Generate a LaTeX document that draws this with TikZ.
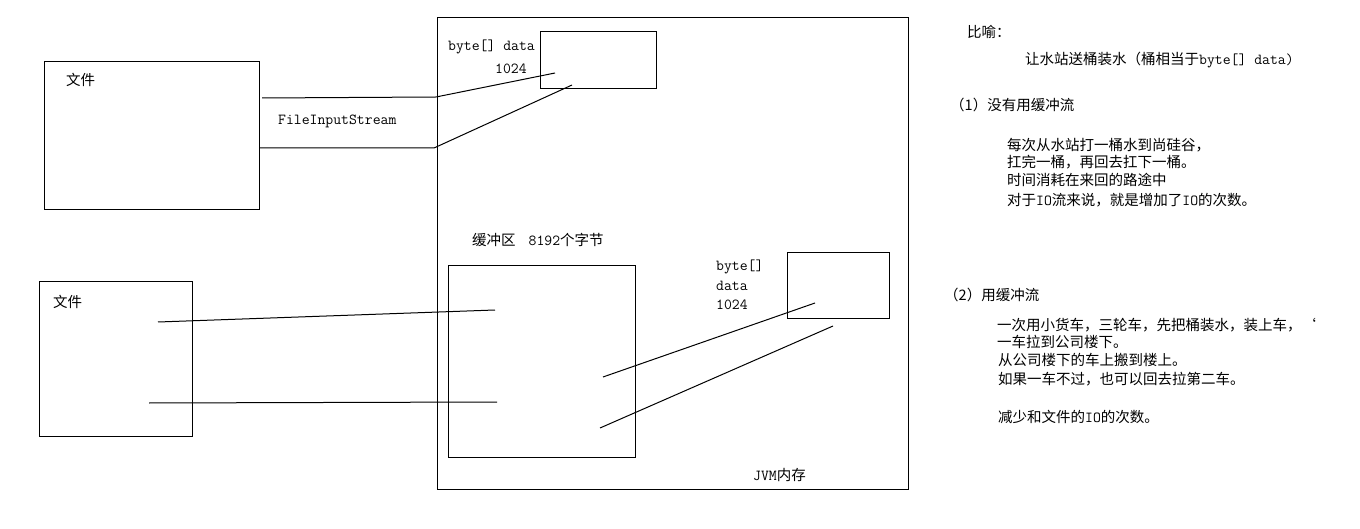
\documentclass[tikz,border=0pt]{standalone}
\usepackage{fontspec}
\setmainfont{Noto Sans CJK SC}
\newcommand{\asc}[1]{{\fontsize{15.3}{17}\selectfont\ttfamily #1}}
\begin{document}
\begin{tikzpicture}[x=1pt,y=-1pt,
  box/.style={draw, line width=1pt, inner sep=0pt, outer sep=0pt, anchor=north west},
  txt/.style={anchor=west, inner sep=0pt, font=\fontsize{14.5}{17}\selectfont},
  ln/.style={line width=1pt}]
\useasboundingbox[fill=white] (0,0) rectangle (1360,529);
% boxes
\node[box, minimum width=215pt, minimum height=148pt] (file1) at (44,62) {};
\node[box, minimum width=471pt, minimum height=471pt] (jvm) at (437,18) {};
\node[box, minimum width=116pt, minimum height=57pt] (arr1) at (540,32) {};
\node[box, minimum width=187pt, minimum height=191pt] (buf) at (448,266) {};
\node[box, minimum width=102pt, minimum height=66pt] (arr2) at (787,253) {};
\node[box, minimum width=153pt, minimum height=154pt] (file2) at (39,282) {};
% texts in diagram
\node[txt] (tfile1) at (66,80) {文件};
\node[txt] (tfis) at (278,121) {\asc{FileInputStream}};
\node[txt] (tbd) at (448,47) {\asc{byte[] data}};
\node[txt] (t1024a) at (495,69) {\asc{1024}};
\node[txt] (tbuf) at (472,240) {缓冲区\hspace{13pt}\asc{8192}个字节};
\node[txt] (tb2) at (716,267) {\asc{byte[]}};
\node[txt] (td2) at (716,286) {\asc{data}};
\node[txt] (t1024b) at (716,305) {\asc{1024}};
\node[txt] (tjvm) at (753,475) {\asc{JVM}内存};
\node[txt] (tfile2) at (53,302) {文件};
% connector points
\coordinate (a1) at (262,98);
\coordinate (a2) at (436,97);
\coordinate (a3) at (555,73);
\coordinate (b1) at (259,148);
\coordinate (b2) at (434,148);
\coordinate (b3) at (572,85);
\coordinate (c1) at (158,322);
\coordinate (c2) at (495,310);
\coordinate (d1) at (149,403);
\coordinate (d2) at (497,402);
\coordinate (e1) at (603,377);
\coordinate (e2) at (815,303);
\coordinate (f1) at (600,428);
\coordinate (f2) at (833,326);
\draw[ln] (a1) -- (a2) -- (a3);
\draw[ln] (b1) -- (b2) -- (b3);
\draw[ln] (c1) -- (c2);
\draw[ln] (d1) -- (d2);
\draw[ln] (e1) -- (e2);
\draw[ln] (f1) -- (f2);
% right-hand notes
\node[txt] (r0) at (967,32) {比喻：};
\node[txt] (r1) at (1025,60) {让水站送桶装水（桶相当于\asc{byte[] data)}};
\node[txt] (r2) at (950,105) {（1）没有用缓冲流};
\node[txt] (r3) at (1007,145) {每次从水站打一桶水到尚硅谷，};
\node[txt] (r4) at (1007,162) {扛完一桶，再回去扛下一桶。};
\node[txt] (r5) at (1007,180) {时间消耗在来回的路途中};
\node[txt] (r6) at (1007,200) {对于\asc{IO}流来说，就是增加了\asc{IO}的次数。};
\node[txt] (r7) at (944,295) {（2）用缓冲流};
\node[txt] (r8) at (997,325) {一次用小货车，三轮车，先把桶装水，装上车，‘};
\node[txt] (r9) at (997,342) {一车拉到公司楼下。};
\node[txt] (r10) at (998,360) {从公司楼下的车上搬到楼上。};
\node[txt] (r11) at (998,379) {如果一车不过，也可以回去拉第二车。};
\node[txt] (r12) at (998,417) {减少和文件的\asc{IO}的次数。};
\end{tikzpicture}
\end{document}
